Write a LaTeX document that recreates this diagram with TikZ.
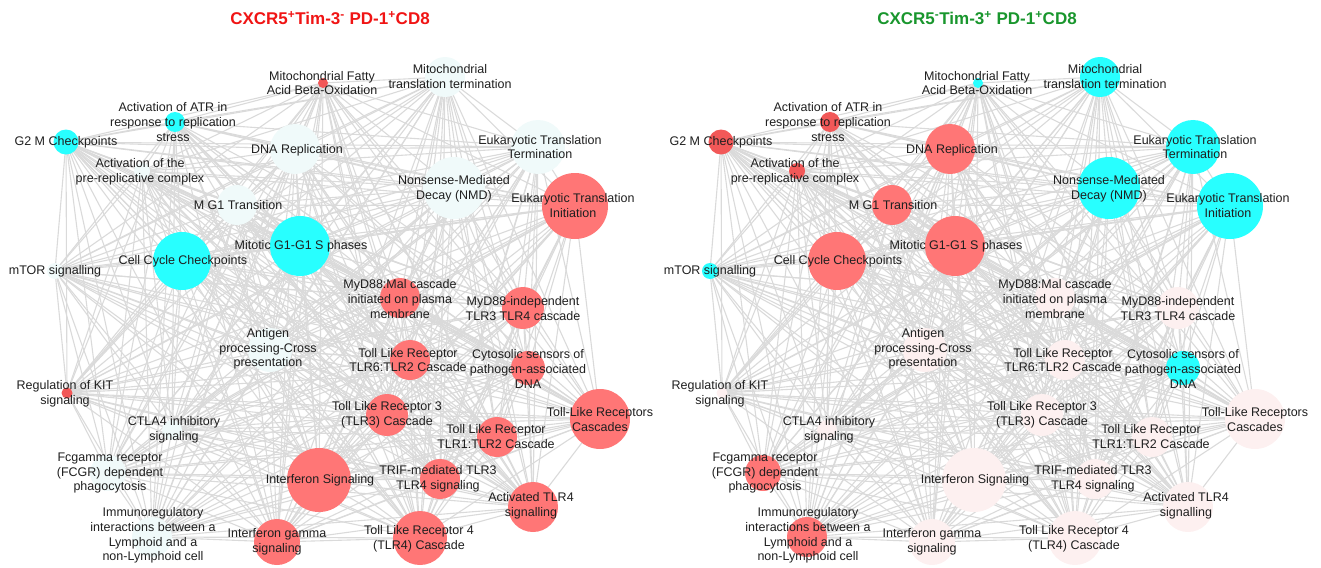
\documentclass[tikz,border=0pt]{standalone}
\usepackage{fontspec}
\setmainfont{Liberation Sans}
\usetikzlibrary{backgrounds}
\definecolor{cred}{RGB}{255,118,118}
\definecolor{cdred}{RGB}{242,88,88}
\definecolor{ccyan}{RGB}{40,255,255}
\definecolor{cazure}{RGB}{240,250,250}
\definecolor{cpink}{RGB}{253,240,240}
\definecolor{titlered}{RGB}{240,20,20}
\definecolor{titlegreen}{RGB}{25,150,45}
\definecolor{edgegray}{RGB}{218,218,218}
% left panel colours
\colorlet{L1}{cdred}\colorlet{L2}{cazure}\colorlet{L3}{ccyan}\colorlet{L4}{ccyan}\colorlet{L5}{cazure}
\colorlet{L6}{cazure}\colorlet{L7}{cazure}\colorlet{L8}{cazure}\colorlet{L9}{cred}\colorlet{L10}{cazure}
\colorlet{L11}{ccyan}\colorlet{L12}{ccyan}\colorlet{L13}{cazure}\colorlet{L14}{cred}\colorlet{L15}{cred}
\colorlet{L16}{cazure}\colorlet{L17}{cred}\colorlet{L18}{cred}\colorlet{L19}{cdred}\colorlet{L20}{cred}
\colorlet{L21}{cazure}\colorlet{L22}{cred}\colorlet{L23}{cred}\colorlet{L24}{cazure}\colorlet{L25}{cred}
\colorlet{L26}{cred}\colorlet{L27}{cred}\colorlet{L28}{cazure}\colorlet{L29}{cred}\colorlet{L30}{cred}
% right panel colours
\colorlet{R1}{ccyan}\colorlet{R2}{ccyan}\colorlet{R3}{cdred}\colorlet{R4}{cdred}\colorlet{R5}{cdred}
\colorlet{R6}{cred}\colorlet{R7}{ccyan}\colorlet{R8}{ccyan}\colorlet{R9}{ccyan}\colorlet{R10}{cred}
\colorlet{R11}{cred}\colorlet{R12}{cred}\colorlet{R13}{ccyan}\colorlet{R14}{cpink}\colorlet{R15}{cpink}
\colorlet{R16}{cpink}\colorlet{R17}{cpink}\colorlet{R18}{ccyan}\colorlet{R19}{cpink}\colorlet{R20}{cpink}
\colorlet{R21}{cpink}\colorlet{R22}{cpink}\colorlet{R23}{cpink}\colorlet{R24}{cred}\colorlet{R25}{cpink}
\colorlet{R26}{cpink}\colorlet{R27}{cpink}\colorlet{R28}{cred}\colorlet{R29}{cpink}\colorlet{R30}{cpink}
\def\nodelist{1/323/83/10, 2/445/77/40, 3/175/122/20, 4/66/142/25, 5/142/171/16,
6/295/149/50, 7/538/147/54, 8/454/188/62, 9/575/206/66, 10/237/205/40,
11/300/246/60, 12/182/261/58, 13/55/271/16, 14/400/298/40, 15/523/308/42,
16/270/350/44, 17/410/360/40, 18/528/368/34, 19/67/393/11, 20/387/415/42,
21/172/430/20, 22/497/437/40, 23/600/419/60, 24/108/473/36, 25/319/480/64,
26/440/479/40, 27/533/507/50, 28/152/537/40, 29/277/542/46, 30/420/538/54}
\def\labellist{1/322/83/{Mitochondrial Fatty\\Acid Beta-Oxidation},
2/450/76.5/{Mitochondrial\\translation termination},
3/173/122/{Activation of ATR in\\response to replication\\stress},
4/66/142/{G2 M Checkpoints},
5/140/171.5/{Activation of the\\pre-replicative complex},
6/297/150/{DNA Replication},
7/540/147/{Eukaryotic Translation\\Termination},
8/454/188.5/{Nonsense-Mediated\\Decay (NMD)},
9/573/205.5/{Eukaryotic Translation\\Initiation},
10/238/205/{M G1 Transition},
11/301/246/{Mitotic G1-G1 S phases},
12/183/261/{Cell Cycle Checkpoints},
13/55/271/{mTOR signalling},
14/400/299/{MyD88:Mal cascade\\initiated on plasma\\membrane},
15/523/308.5/{MyD88-independent\\TLR3 TLR4 cascade},
16/268/349/{Antigen\\processing-Cross\\presentation},
17/408/360/{Toll Like Receptor\\TLR6:TLR2 Cascade},
18/528/369/{Cytosolic sensors of\\pathogen-associated\\DNA},
19/65/394/{Regulation of KIT\\signaling},
20/387/414.5/{Toll Like Receptor 3\\(TLR3) Cascade},
21/174/430/{CTLA4 inhibitory\\signaling},
22/496/436.5/{Toll Like Receptor\\TLR1:TLR2 Cascade},
23/600/419.5/{Toll-Like Receptors\\Cascades},
24/110/473/{Fcgamma receptor\\(FCGR) dependent\\phagocytosis},
25/320/480/{Interferon Signaling},
26/438/479/{TRIF-mediated TLR3\\TLR4 signaling},
27/531/506/{Activated TLR4\\signalling},
28/153/535.5/{Immunoregulatory\\interactions between a\\Lymphoid and a\\non-Lymphoid cell},
29/277/542/{Interferon gamma\\signaling},
30/419/538.5/{Toll Like Receptor 4\\(TLR4) Cascade}}
\newcommand\drawpanel[2]{%
  \foreach \i/\x/\y/\d in \nodelist {\node[circ,minimum size=\d pt,fill=#1\i] (#1\i) at (#2+\x,\y) {};}
  \begin{pgfonlayer}{background}
    \foreach \i in {1,...,29}{\pgfmathtruncatemacro\nx{\i+1}%
      \foreach \j in {\nx,...,30}{\draw[edge] (#1\i.center) -- (#1\j.center);}}
  \end{pgfonlayer}
  \foreach \i/\x/\y/\t in \labellist {\node[lab] (#1\i l) at (#2+\x,\y) {\t};}
}
\begin{document}
\begin{tikzpicture}[x=1pt,y=-1pt,
  circ/.style={circle,inner sep=0pt,draw=none},
  edge/.style={draw=edgegray,line width=1.1pt},
  lab/.style={align=center,inner sep=0pt,text=black!88,font=\fontsize{12.5}{14.6}\selectfont},
  ttl/.style={inner sep=0pt,font=\bfseries\fontsize{17}{20}\selectfont}]
\useasboundingbox (0,0) rectangle (1321,567);
\node[ttl,text=titlered] (tL) at (330,18) {CXCR5\textsuperscript{+}Tim-3\textsuperscript{-} PD-1\textsuperscript{+}CD8};
\node[ttl,text=titlegreen] (tR) at (977,18) {CXCR5\textsuperscript{-}Tim-3\textsuperscript{+} PD-1\textsuperscript{+}CD8};
\drawpanel{L}{0}
\drawpanel{R}{655}
\end{tikzpicture}
\end{document}
